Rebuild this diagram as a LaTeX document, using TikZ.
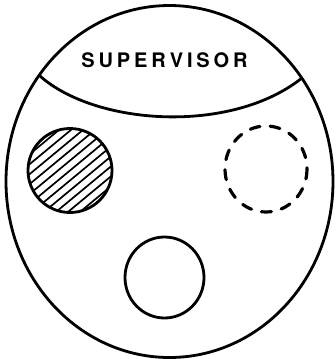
\documentclass[tikz,border=0pt]{standalone}
\usepackage{fontspec}
\newfontfamily\labelfont{TeX Gyre Heros}
\begin{document}
\begin{tikzpicture}[x=1pt,y=-1pt,
  outline/.style={draw=black,line width=2.8pt},
  hatchline/.style={draw=black,line width=1.7pt},
  dashring/.style={draw=black,line width=3.2pt,line cap=round,dash pattern=on 10pt off 10.2pt},
  lbl/.style={font=\labelfont\bfseries\fontsize{20}{22}\selectfont,inner sep=0pt}]
\useasboundingbox (0,0) rectangle (336,359);
% outer circle
\draw[outline] (169.5,181.5) ellipse [x radius=163.5, y radius=176];
% supervisor dividing curve
\coordinate (L) at (40,76);
\coordinate (R) at (302,78);
\draw[outline] (L) .. controls (95,125) and (230,135) .. (R);
\node[lbl] (sup) at (164.5,60) {S\kern3.9pt U\kern3.9pt P\kern3.9pt E\kern3.9pt R\kern3.9pt V\kern3.9pt I\kern3.9pt S\kern3.9pt O\kern3.9pt R};
% hatched circle
\begin{scope}
  \clip (70,170.5) circle (42);
  \foreach \k in {-6,...,6} {
    \draw[hatchline] ({70+12*\k-70},{170.5+58}) -- ({70+12*\k+70},{170.5-58});
  }
\end{scope}
\draw[outline] (70,170.5) circle (42);
% dashed circle
\draw[dashring] (266,169) ellipse [x radius=41, y radius=43];
% plain circle
\draw[outline] (164.5,277.5) ellipse [x radius=39.5, y radius=40.5];
\end{tikzpicture}
\end{document}
